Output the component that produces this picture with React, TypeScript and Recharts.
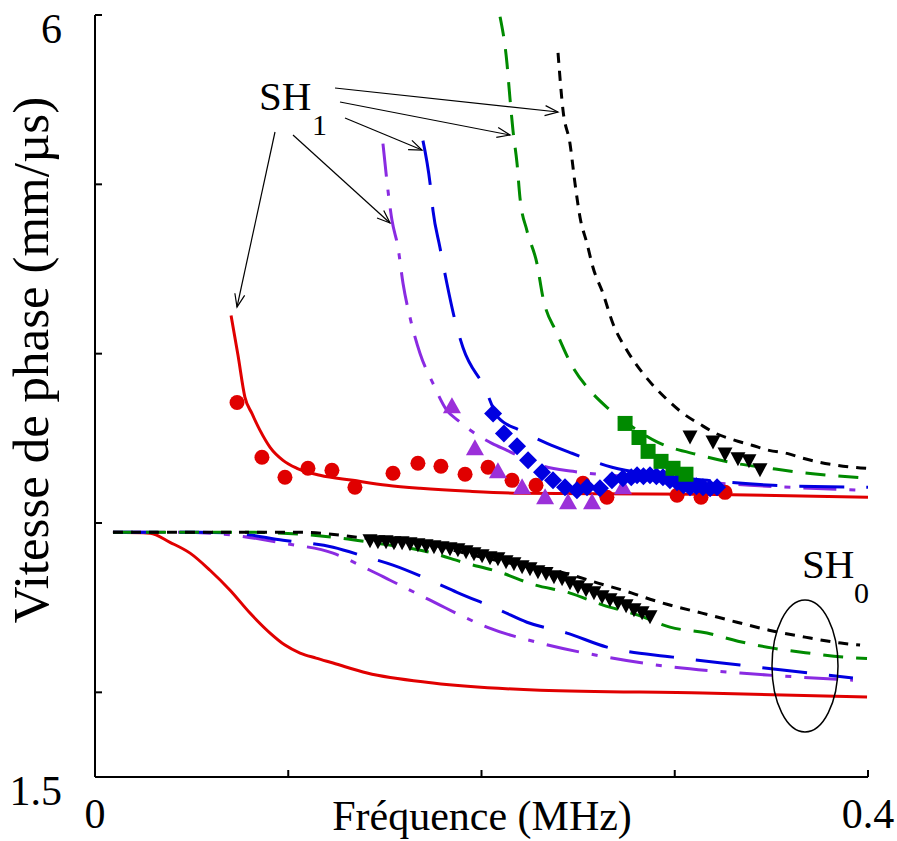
import React from 'react';
import { ComposedChart, Line, Scatter, XAxis, YAxis } from 'recharts';

const FONT = '"Liberation Serif", "Times New Roman", serif';

// [frequence MHz, vitesse mm/us]
const sh0Red = [[0.0093, 2.945], [0.0285, 2.94], [0.0388, 2.886], [0.0492, 2.822], [0.0595, 2.721], [0.0699, 2.603], [0.0802, 2.468], [0.0906, 2.35], [0.0983, 2.279], [0.1061, 2.232], [0.1144, 2.202], [0.1232, 2.173], [0.1408, 2.114], [0.1749, 2.055], [0.2303, 2.013], [0.3146, 1.996], [0.3995, 1.972]];
const sh0Purple = [[0.0093, 2.945], [0.044, 2.945], [0.0714, 2.928], [0.0973, 2.881], [0.1232, 2.822], [0.1423, 2.721], [0.1527, 2.662], [0.1682, 2.574], [0.1785, 2.515], [0.1889, 2.456], [0.2028, 2.385], [0.2303, 2.291], [0.2649, 2.208], [0.2991, 2.149], [0.3338, 2.114], [0.3922, 2.072]];
const sh0Blue = [[0.0093, 2.945], [0.0543, 2.945], [0.0714, 2.94], [0.0973, 2.898], [0.1232, 2.857], [0.1408, 2.798], [0.1542, 2.751], [0.1734, 2.662], [0.1873, 2.591], [0.2096, 2.485], [0.2235, 2.414], [0.2442, 2.35], [0.2649, 2.267], [0.2991, 2.208], [0.3338, 2.161], [0.3922, 2.084]];
const sh0Green = [[0.0093, 2.945], [0.0802, 2.945], [0.1232, 2.916], [0.1423, 2.886], [0.1749, 2.822], [0.1904, 2.768], [0.2096, 2.709], [0.2266, 2.638], [0.2458, 2.586], [0.2629, 2.515], [0.281, 2.456], [0.2975, 2.385], [0.3167, 2.35], [0.3327, 2.302], [0.3508, 2.261], [0.3689, 2.232], [0.3871, 2.208], [0.3995, 2.2]];
const sh0Black = [[0.0093, 2.945], [0.106, 2.945], [0.1408, 2.91], [0.1749, 2.869], [0.1956, 2.81], [0.2199, 2.751], [0.2432, 2.704], [0.2603, 2.645], [0.2779, 2.586], [0.2872, 2.55], [0.296, 2.52], [0.3141, 2.468], [0.3322, 2.414], [0.3488, 2.367], [0.3674, 2.326], [0.386, 2.291], [0.3959, 2.279]];

const sh1Red = [[0.0704, 4.226], [0.074, 3.99], [0.0776, 3.742], [0.0812, 3.647], [0.0854, 3.547], [0.0906, 3.447], [0.0973, 3.37], [0.1045, 3.323], [0.1164, 3.282], [0.1335, 3.252], [0.1511, 3.223], [0.1682, 3.205], [0.194, 3.187], [0.2199, 3.176], [0.3131, 3.17], [0.4, 3.152]];
const sh1Purple = [[0.149, 5.24], [0.1537, 4.786], [0.1568, 4.627], [0.1594, 4.414], [0.163, 4.214], [0.1682, 4.001], [0.1749, 3.824], [0.1821, 3.665], [0.1878, 3.606], [0.1966, 3.529], [0.2054, 3.47], [0.2132, 3.429], [0.2303, 3.341], [0.2473, 3.305], [0.2665, 3.282], [0.3027, 3.252], [0.3389, 3.223], [0.4, 3.193]];
const sh1Blue = [[0.1697, 5.258], [0.1734, 5.004], [0.1749, 4.845], [0.1785, 4.627], [0.1821, 4.414], [0.1863, 4.196], [0.1904, 4.037], [0.2018, 3.795], [0.2085, 3.624], [0.2199, 3.547], [0.2339, 3.47], [0.2468, 3.412], [0.2675, 3.329], [0.2872, 3.288], [0.3167, 3.252], [0.3508, 3.223], [0.4, 3.211]];
const sh1Green = [[0.2096, 5.99], [0.2132, 5.712], [0.2147, 5.512], [0.2163, 5.317], [0.2184, 5.122], [0.2199, 4.922], [0.2235, 4.727], [0.2287, 4.532], [0.2318, 4.332], [0.2391, 4.119], [0.2473, 3.919], [0.2561, 3.783], [0.2649, 3.683], [0.2768, 3.577], [0.2913, 3.476], [0.3131, 3.4], [0.3312, 3.353], [0.3493, 3.323], [0.3648, 3.299], [0.4, 3.264]];
const sh1Black = [[0.2396, 5.777], [0.2422, 5.435], [0.2458, 5.24], [0.2484, 5.004], [0.251, 4.804], [0.2546, 4.65], [0.2577, 4.509], [0.2629, 4.355], [0.268, 4.178], [0.2753, 4.019], [0.2836, 3.883], [0.2965, 3.724], [0.3043, 3.647], [0.3131, 3.583], [0.3213, 3.529], [0.3312, 3.488], [0.34, 3.459], [0.3488, 3.429], [0.3581, 3.411], [0.3664, 3.382], [0.3752, 3.358], [0.384, 3.341], [0.3928, 3.329], [0.4, 3.322]];

// mesures
const expRed = [[0.0735, 3.712], [0.0864, 3.388], [0.0983, 3.27], [0.1102, 3.323], [0.1226, 3.311], [0.1345, 3.211], [0.1542, 3.294], [0.1671, 3.353], [0.179, 3.335], [0.1915, 3.288], [0.2034, 3.329], [0.2158, 3.252], [0.2282, 3.223], [0.2525, 3.235], [0.2649, 3.152], [0.3012, 3.164], [0.3136, 3.152], [0.326, 3.181]];
const expPurple = [[0.1847, 3.683], [0.1966, 3.435], [0.2085, 3.299], [0.221, 3.205], [0.2329, 3.146], [0.2448, 3.117], [0.2572, 3.117], [0.2732, 3.205]];
const expBlue = [[0.206, 3.647], [0.2116, 3.529], [0.2184, 3.453], [0.2241, 3.37], [0.2313, 3.299], [0.237, 3.252], [0.2432, 3.211], [0.2494, 3.193], [0.2546, 3.211], [0.2613, 3.205], [0.2675, 3.252], [0.2732, 3.264], [0.2775, 3.27], [0.2805, 3.282], [0.2838, 3.276], [0.2872, 3.282], [0.2905, 3.276], [0.2939, 3.27], [0.2975, 3.252], [0.3012, 3.24], [0.3045, 3.223], [0.3079, 3.211], [0.3112, 3.217], [0.3146, 3.211], [0.3183, 3.205], [0.3219, 3.211]];
const expGreen = [[0.2743, 3.588], [0.2815, 3.505], [0.2862, 3.423], [0.2929, 3.364], [0.2991, 3.323], [0.3058, 3.288]];
const expBlackSH1 = [[0.3079, 3.511], [0.3198, 3.482], [0.326, 3.411], [0.3327, 3.382], [0.3384, 3.37], [0.3441, 3.317]];
const expBlackSH0 = [[0.1423, 2.898], [0.1464, 2.892], [0.1506, 2.892], [0.1547, 2.886], [0.1589, 2.886], [0.163, 2.881], [0.1671, 2.875], [0.1713, 2.869], [0.1754, 2.863], [0.1796, 2.857], [0.1837, 2.851], [0.1878, 2.845], [0.192, 2.833], [0.1961, 2.822], [0.2003, 2.81], [0.2044, 2.798], [0.2085, 2.792], [0.2127, 2.774], [0.2168, 2.763], [0.221, 2.745], [0.2251, 2.733], [0.2292, 2.715], [0.2334, 2.704], [0.2375, 2.686], [0.2417, 2.674], [0.2458, 2.65], [0.2499, 2.627], [0.2541, 2.609], [0.2582, 2.591], [0.2624, 2.568], [0.2665, 2.55], [0.2706, 2.532], [0.2748, 2.515], [0.2789, 2.491], [0.2831, 2.473], [0.2872, 2.45]];

const xTicks = [0, 0.1, 0.2, 0.3, 0.4];
const yTicks = [1.5, 2, 3, 4, 5, 6];
const xLabels: Record<string, string> = { '0': '0', '0.4': '0.4' };
const yLabels: Record<string, string> = { '1.5': '1.5', '6': '6' };

const RED = '#e00000';
const PURPLE = '#8a2be2';
const BLUE = '#0000e0';
const GREEN = '#008a00';
const BLACK = '#000000';

const pts = (arr: number[][]) => arr.map(([f, v]) => ({ f, v }));

const XTick = (props: any) => {
  const { x, y, payload } = props;
  const s = xLabels[String(payload.value)];
  if (!s) return null;
  return (
    <text x={x} y={y + 58} textAnchor="middle" fontFamily={FONT} fontSize={42} fill="#000">
      {s}
    </text>
  );
};

const YTick = (props: any) => {
  const { x, y, payload } = props;
  const s = yLabels[String(payload.value)];
  if (!s) return null;
  return (
    <text x={x - 40} y={y + 28} textAnchor="end" fontFamily={FONT} fontSize={42} fill="#000">
      {s}
    </text>
  );
};

const circleShape = (color: string) => (p: any) => <circle cx={p.cx} cy={p.cy} r={7.5} fill={color} />;
const triUpShape = (color: string) => (p: any) => (
  <polygon points={`${p.cx},${p.cy - 10} ${p.cx + 9},${p.cy + 6} ${p.cx - 9},${p.cy + 6}`} fill={color} />
);
const triDownShape = (color: string) => (p: any) => (
  <polygon points={`${p.cx - 7.5},${p.cy - 6} ${p.cx + 7.5},${p.cy - 6} ${p.cx},${p.cy + 8}`} fill={color} />
);
const diamondShape = (color: string) => (p: any) => (
  <polygon points={`${p.cx},${p.cy - 9} ${p.cx + 9},${p.cy} ${p.cx},${p.cy + 9} ${p.cx - 9},${p.cy}`} fill={color} />
);
const squareShape = (color: string) => (p: any) => (
  <rect x={p.cx - 7.5} y={p.cy - 7.5} width={15} height={15} fill={color} />
);

const curves = [
  { key: 'sh0Red', data: sh0Red, color: RED, dash: undefined },
  { key: 'sh0Purple', data: sh0Purple, color: PURPLE, dash: '33 13 6 13' },
  { key: 'sh0Blue', data: sh0Blue, color: BLUE, dash: '45 22' },
  { key: 'sh0Green', data: sh0Green, color: GREEN, dash: '20 13' },
  { key: 'sh0Black', data: sh0Black, color: BLACK, dash: '10 8' },
  { key: 'sh1Red', data: sh1Red, color: RED, dash: undefined },
  { key: 'sh1Purple', data: sh1Purple, color: PURPLE, dash: '33 13 6 13' },
  { key: 'sh1Blue', data: sh1Blue, color: BLUE, dash: '45 22' },
  { key: 'sh1Green', data: sh1Green, color: GREEN, dash: '20 13' },
  { key: 'sh1Black', data: sh1Black, color: BLACK, dash: '10 8' },
];

const markers = [
  { key: 'expRed', data: expRed, shape: circleShape(RED) },
  { key: 'expPurple', data: expPurple, shape: triUpShape('#9b30d9') },
  { key: 'expBlue', data: expBlue, shape: diamondShape(BLUE) },
  { key: 'expGreen', data: expGreen, shape: squareShape(GREEN) },
  { key: 'expBlackSH1', data: expBlackSH1, shape: triDownShape(BLACK) },
  { key: 'expBlackSH0', data: expBlackSH0, shape: triDownShape(BLACK) },
];

function Annotations() {
  return (
    <svg width={897} height={841} style={{ position: 'absolute', left: 0, top: 0, pointerEvents: 'none' }}>
      <defs>
        <marker id="arr" markerWidth="16" markerHeight="12" refX="14" refY="6" orient="auto" markerUnits="userSpaceOnUse">
          <path d="M1,1 L14,6 L1,11" fill="none" stroke="#000" strokeWidth="1.2" />
        </marker>
      </defs>
      <text x={33} y={360} transform="rotate(-90 33 360)" dy={15} textAnchor="middle" fontFamily={FONT} fontSize={51} fill="#000">
        Vitesse de phase (mm/µs)
      </text>
      <text x={482} y={830} textAnchor="middle" fontFamily={FONT} fontSize={42} fill="#000">
        Fréquence (MHz)
      </text>
      <text x={259} y={110} fontFamily={FONT} fontSize={41} fill="#000">SH</text>
      <text x={312} y={135} fontFamily={FONT} fontSize={30} fill="#000">1</text>
      <g stroke="#000" strokeWidth={1.2} fill="none">
        <line x1={275} y1={132} x2={237} y2={307} markerEnd="url(#arr)" />
        <line x1={293} y1={135} x2={390} y2={223} markerEnd="url(#arr)" />
        <line x1={345} y1={118} x2={422} y2={150} markerEnd="url(#arr)" />
        <line x1={340} y1={102} x2={510} y2={135} markerEnd="url(#arr)" />
        <line x1={335} y1={88} x2={558} y2={112} markerEnd="url(#arr)" />
      </g>
      <text x={802} y={578} fontFamily={FONT} fontSize={41} fill="#000">SH</text>
      <text x={854} y={603} fontFamily={FONT} fontSize={30} fill="#000">0</text>
      <ellipse cx={805} cy={666} rx={33} ry={66} fill="none" stroke="#000" strokeWidth={1.5} />
    </svg>
  );
}

export default function App() {
  return (
    <div style={{ position: 'absolute', left: 0, top: 0, width: 897, height: 841, background: '#fff' }}>
      <ComposedChart width={897} height={841} margin={{ top: 15, right: 29, bottom: 24, left: 35 }}>
        <XAxis
          type="number"
          dataKey="f"
          domain={[0, 0.4]}
          ticks={xTicks}
          interval={0}
          height={40}
          tickSize={-7}
          tickMargin={0}
          tick={<XTick />}
          axisLine={{ stroke: '#000', strokeWidth: 2 }}
          tickLine={{ stroke: '#000', strokeWidth: 2 }}
          allowDataOverflow
        />
        <YAxis
          type="number"
          dataKey="v"
          domain={[1.5, 6]}
          ticks={yTicks}
          interval={0}
          width={60}
          tickSize={-7}
          tickMargin={0}
          tick={<YTick />}
          axisLine={{ stroke: '#000', strokeWidth: 2 }}
          tickLine={{ stroke: '#000', strokeWidth: 2 }}
          allowDataOverflow
        />
        {curves.map((c) => (
          <Line
            key={c.key}
            data={pts(c.data)}
            dataKey="v"
            type="monotone"
            stroke={c.color}
            strokeWidth={3}
            strokeDasharray={c.dash}
            dot={false}
            activeDot={false}
            isAnimationActive={false}
          />
        ))}
        {markers.map((m) => (
          <Scatter key={m.key} data={pts(m.data)} dataKey="v" shape={m.shape} isAnimationActive={false} />
        ))}
      </ComposedChart>
      <Annotations />
    </div>
  );
}
